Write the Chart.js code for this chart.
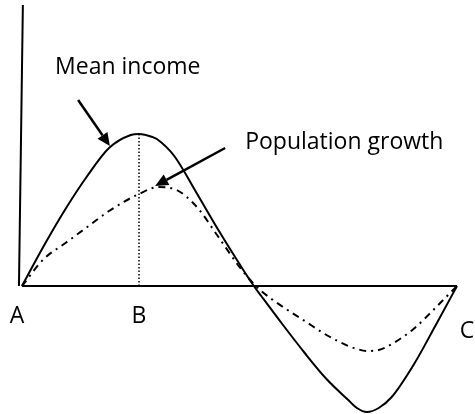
<!DOCTYPE html>
<html lang="en">
<head>
    <meta charset="UTF-8">
    <title>Mean income and population growth</title>
    <script src="https://cdn.jsdelivr.net/npm/chart.js"></script>
    <style>
        html, body {
            margin: 0;
            padding: 0;
            background: #fff;
        }
        #chart {
            display: block;
        }
    </style>
</head>
<body>
    <canvas id="chart" width="475" height="414"></canvas>

    <script>
        // positions along the A..C axis (A = 0, C = 100)
        const positions = [0, 5, 10, 15, 20, 25, 26.9, 30, 31, 35, 40, 45, 50, 53.3, 55, 60, 65, 70, 75, 77, 79.3, 82, 85, 90, 95, 100];
        const meanIncome = [0, 40, 77, 110, 138, 151, 152, 149, 147, 130, 94, 57, 22, 0, -10, -39, -67, -93, -114, -122, -126, -122, -111, -79, -40, 0];
        const populationGrowth = [0, 27, 43, 59, 75, 88, 92, 98, 99, 97, 80, 50, 19, 2, -5, -21, -35, -49, -60, -63, -65, -64, -58, -43, -22, 0];

        const pointLabels = ['A', 'B', 'C'];
        const pointPositions = [0, 26.9, 100];
        const seriesNames = ['Mean income', 'Population growth'];

        const toXY = (ys) => positions.map((x, i) => ({ x: x, y: ys[i] }));

        const FONT = '23px "Open Sans", sans-serif';

        // draws the axes, the labels and the arrows
        const sketchPlugin = {
            id: 'sketch',
            beforeDatasetsDraw(chart) {
                const ctx = chart.ctx;
                const xs = chart.scales.x;
                const ys = chart.scales.y;
                ctx.save();
                ctx.strokeStyle = '#000';
                ctx.lineWidth = 2;
                ctx.beginPath();
                ctx.moveTo(xs.getPixelForValue(0), ys.getPixelForValue(0));
                ctx.lineTo(xs.getPixelForValue(100), ys.getPixelForValue(0));
                ctx.stroke();
                ctx.beginPath();
                ctx.moveTo(xs.getPixelForValue(-0.7), ys.getPixelForValue(0));
                ctx.lineTo(xs.getPixelForValue(0.2), ys.getPixelForValue(281));
                ctx.stroke();
                ctx.restore();
            },
            afterDatasetsDraw(chart) {
                const ctx = chart.ctx;
                const xs = chart.scales.x;
                const ys = chart.scales.y;
                const px = (v) => xs.getPixelForValue(v);
                const py = (v) => ys.getPixelForValue(v);

                function arrow(x1, y1, x2, y2) {
                    const a = Math.atan2(y2 - y1, x2 - x1);
                    const len = 13, half = 6;
                    const bx = x2 - len * Math.cos(a), by = y2 - len * Math.sin(a);
                    ctx.beginPath();
                    ctx.moveTo(x1, y1);
                    ctx.lineTo(bx, by);
                    ctx.stroke();
                    ctx.beginPath();
                    ctx.moveTo(x2, y2);
                    ctx.lineTo(bx + half * Math.sin(a), by - half * Math.cos(a));
                    ctx.lineTo(bx - half * Math.sin(a), by + half * Math.cos(a));
                    ctx.closePath();
                    ctx.fill();
                }

                ctx.save();
                ctx.fillStyle = '#000';
                ctx.strokeStyle = '#000';
                ctx.lineWidth = 2.5;
                ctx.font = FONT;
                ctx.textBaseline = 'middle';

                ctx.textAlign = 'left';
                ctx.fillText(seriesNames[0], px(7.6), py(219));
                ctx.fillText(seriesNames[1], px(51.3), py(144));

                arrow(px(12.9), py(186), px(20.2), py(140));
                arrow(px(46.7), py(138), px(30.6), py(100));

                ctx.textAlign = 'center';
                ctx.fillText(pointLabels[0], px(pointPositions[0]) - 5, py(-30));
                ctx.fillText(pointLabels[1], px(pointPositions[1]), py(-30));
                ctx.fillText(pointLabels[2], px(pointPositions[2]) + 10, py(-45));
                ctx.restore();
            }
        };

        const ctx = document.getElementById('chart').getContext('2d');
        const chart = new Chart(ctx, {
            type: 'line',
            data: {
                datasets: [{
                    label: seriesNames[0],
                    data: toXY(meanIncome),
                    borderColor: '#000',
                    borderWidth: 2,
                    cubicInterpolationMode: 'monotone',
                    pointRadius: 0
                }, {
                    label: seriesNames[1],
                    data: toXY(populationGrowth),
                    borderColor: '#000',
                    borderWidth: 2,
                    borderDash: [7, 5, 2, 5],
                    cubicInterpolationMode: 'monotone',
                    pointRadius: 0
                }, {
                    label: 'B',
                    data: [{ x: pointPositions[1], y: 0 }, { x: pointPositions[1], y: meanIncome[positions.indexOf(pointPositions[1])] }],
                    borderColor: '#000',
                    borderWidth: 1.5,
                    borderDash: [1.5, 2],
                    pointRadius: 0
                }]
            },
            options: {
                responsive: false,
                animation: false,
                clip: false,
                layout: { padding: 0 },
                plugins: {
                    legend: { display: false },
                    tooltip: { enabled: false }
                },
                scales: {
                    x: { type: 'linear', display: false, min: -22 / 4.35, max: 453 / 4.35 },
                    y: { display: false, min: -128, max: 286 }
                }
            },
            plugins: [sketchPlugin]
        });
    </script>
</body>
</html>
